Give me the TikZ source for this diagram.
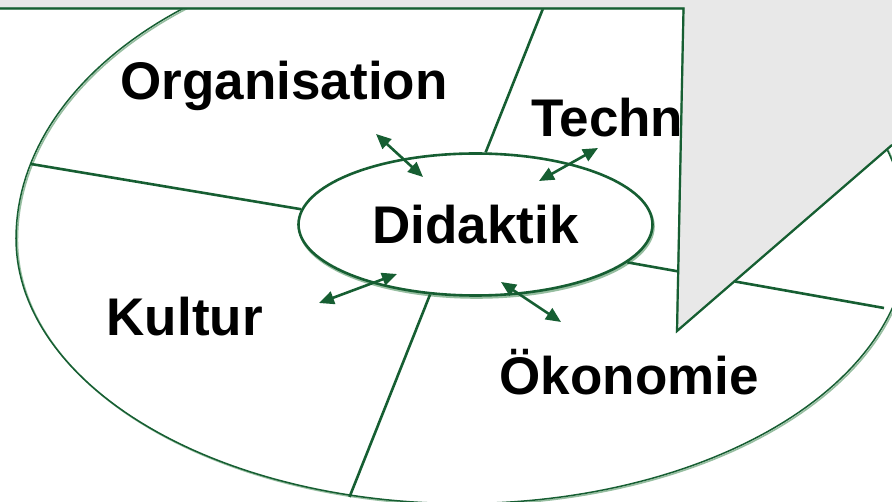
\documentclass[tikz,border=0pt]{standalone}
\usepackage{fontspec}
\setmainfont{Liberation Sans}
\usetikzlibrary{arrows.meta,shapes.geometric}
\definecolor{dg}{RGB}{22,94,50}
\definecolor{lg}{RGB}{150,190,160}
\definecolor{pg}{RGB}{232,232,232}
\tikzset{
  bigfont/.style={font=\fontsize{53}{60}\selectfont\bfseries},
  lbl/.style={bigfont, inner sep=0pt, anchor=base west},
  divider/.style={draw=dg, line width=2.6pt},
  dblarrow/.style={draw=dg, line width=2.6pt, {Triangle[length=15pt,width=13pt]}-{Triangle[length=15pt,width=13pt]}},
  outerline/.style={draw=dg, line width=1.5pt},
  outershadow/.style={draw=lg, line width=1.6pt},
  edgeline/.style={draw=dg, line width=2.2pt, line join=miter},
  edgeshadow/.style={draw=lg, line width=2pt, line join=miter},
  innerell/.style={ellipse, minimum width=354pt, minimum height=142pt, inner sep=0pt, line width=2.6pt},
}
\begin{document}
\begin{tikzpicture}[x=1pt,y=-1pt]
\useasboundingbox (0,0) rectangle (892,502);
\clip (0,0) rectangle (892,502);
\fill[white] (0,0) rectangle (892,502);
% outer field (upper and lower half-ellipses)
\draw[outershadow, shift={(1.4,1.4)}]
  plot[domain=0:180, samples=120, variable=\t] ({462+446*cos(\t)}, {238.6-295*sin(\t)})
  -- plot[domain=180:360, samples=120, variable=\t] ({462+446*cos(\t)}, {238.6-265*sin(\t)}) -- cycle;
\draw[outerline]
  plot[domain=0:180, samples=120, variable=\t] ({462+446*cos(\t)}, {238.6-295*sin(\t)})
  -- plot[domain=180:360, samples=120, variable=\t] ({462+446*cos(\t)}, {238.6-265*sin(\t)}) -- cycle;
% inner ellipse
\node[innerell, draw=lg] (didshadow) at (476.5,226.5) {};
\node[innerell, draw=dg, fill=white, bigfont] (did) at (475.5,224.5) {Didaktik};
% dividers
\coordinate (o1) at (31,164);
\coordinate (o2) at (544,6);
\coordinate (o3) at (884,308);
\coordinate (o4) at (349.5,497);
\draw[divider] (did.175) -- (o1);
\draw[divider] (did.82) -- (o2);
\draw[divider] (did.-14.4) -- (o3);
\draw[divider] (did.-123) -- (o4);
% labels
\node[lbl] (org) at (120.5,100) {Organisation};
\node[lbl] (tech) at (531,137) {Techn};
\node[lbl] (kul) at (106.5,336) {Kultur};
\node[lbl] (oek) at (499.5,395) {Ökonomie};
% double arrows
\coordinate (a1s) at (376,134); \coordinate (a1e) at (423,177);
\coordinate (a2s) at (598,148); \coordinate (a2e) at (539,181);
\coordinate (a3s) at (319,303); \coordinate (a3e) at (397,274);
\coordinate (a4s) at (501,282); \coordinate (a4e) at (561,322);
\draw[dblarrow] (a1s) -- (a1e);
\draw[dblarrow] (a2s) -- (a2e);
\draw[dblarrow] (a3s) -- (a3e);
\draw[dblarrow] (a4s) -- (a4e);
% page top strip and folded corner
\fill[pg] (0,0) rectangle (892,8.5);
\fill[pg] (683.5,0) -- (892,0) -- (892,145) -- (677,331) -- cycle;
\coordinate (p1) at (0,8.5);
\coordinate (p2) at (683.5,8.5);
\coordinate (p3) at (677,331);
\coordinate (p4) at (892,145);
\draw[edgeshadow, shift={(1.3,1.3)}] (p1) -- (p2) -- (p3) -- (p4);
\draw[edgeline] (p1) -- (p2) -- (p3) -- (p4);
\end{tikzpicture}
\end{document}
